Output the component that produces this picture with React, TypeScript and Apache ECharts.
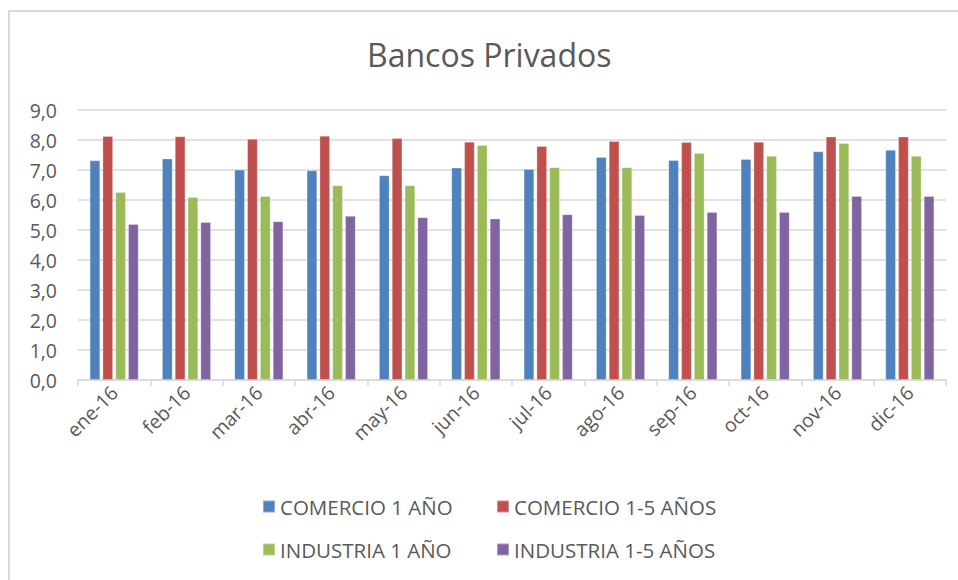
import React, { useEffect, useRef } from "react";
import * as echarts from "echarts";

const categories = ["ene-16", "feb-16", "mar-16", "abr-16", "may-16", "jun-16", "jul-16", "ago-16", "sep-16", "oct-16", "nov-16", "dic-16"];
const comercio1 = [7.32, 7.38, 7.01, 6.99, 6.82, 7.08, 7.03, 7.43, 7.33, 7.36, 7.62, 7.67];
const comercio15 = [8.13, 8.12, 8.04, 8.14, 8.06, 7.94, 7.8, 7.96, 7.93, 7.94, 8.11, 8.11];
const industria1 = [6.26, 6.1, 6.13, 6.49, 6.49, 7.83, 7.09, 7.09, 7.56, 7.47, 7.9, 7.47];
const industria15 = [5.2, 5.26, 5.29, 5.47, 5.42, 5.38, 5.52, 5.5, 5.6, 5.6, 6.13, 6.13];
const seriesNames = ["COMERCIO 1 AÑO", "COMERCIO 1-5 AÑOS", "INDUSTRIA 1 AÑO", "INDUSTRIA 1-5 AÑOS"];
const colors = ["#4f81bd", "#c0504d", "#9bbb59", "#8064a2"];

const FONT = "Open Sans";
const TXT = "#595959";

export default function App() {
  const ref = useRef<HTMLDivElement>(null);
  useEffect(() => {
    if (!ref.current) return;
    const chart = echarts.init(ref.current, undefined, { renderer: "svg" });
    const values = [comercio1, comercio15, industria1, industria15];
    const legendPos = [
      { left: 257, top: 491 },
      { left: 491, top: 491 },
      { left: 257, top: 534 },
      { left: 491, top: 534 },
    ];
    chart.setOption({
      animation: false,
      backgroundColor: "#ffffff",
      title: {
        text: "Bancos Privados",
        left: 362,
        top: 33,
        textStyle: { fontFamily: FONT, fontSize: 32, fontWeight: "normal", color: TXT },
      },
      graphic: [
        {
          type: "rect",
          shape: { x: 9, y: 11, width: 1000, height: 1000 },
          style: { fill: "none", stroke: "#d9d9d9", lineWidth: 2 },
          silent: true,
        },
      ],
      legend: seriesNames.map((n, i) => ({
        data: [n],
        left: legendPos[i].left,
        top: legendPos[i].top,
        itemWidth: 12,
        itemHeight: 12,
        itemGap: 8,
        icon: "rect",
        textStyle: { fontFamily: FONT, fontSize: 20.5, color: TXT },
      })),
      grid: { left: 78, right: 12, top: 110, bottom: 200, containLabel: false },
      xAxis: {
        type: "category",
        data: categories,
        axisLine: { lineStyle: { color: "#d9d9d9", width: 1.5 } },
        axisTick: { show: true, length: 6, alignWithLabel: false, lineStyle: { color: "#d9d9d9", width: 1.5 } },
        axisLabel: { rotate: 45, fontFamily: FONT, fontSize: 19.5, color: TXT, margin: 9, interval: 0 },
      },
      yAxis: {
        type: "value",
        min: 0,
        max: 9,
        interval: 1,
        axisLine: { show: false },
        axisTick: { show: false },
        splitLine: { lineStyle: { color: "#d9d9d9", width: 1.5 } },
        axisLabel: {
          fontFamily: FONT,
          fontSize: 19.5,
          color: TXT,
          margin: 21,
          formatter: (v: number) => v.toFixed(1).replace(".", ","),
        },
      },
      series: seriesNames.map((n, i) => ({
        name: n,
        type: "bar",
        data: values[i],
        barWidth: 10.5,
        barGap: "22%",
        barCategoryGap: "33%",
        itemStyle: { color: colors[i], borderColor: "rgba(255,255,255,0.35)", borderWidth: 0.8 },
      })),
    });
    return () => chart.dispose();
  }, []);
  return <div ref={ref} style={{ position: "fixed", left: 0, top: 0, width: 958, height: 580 }} />;
}
